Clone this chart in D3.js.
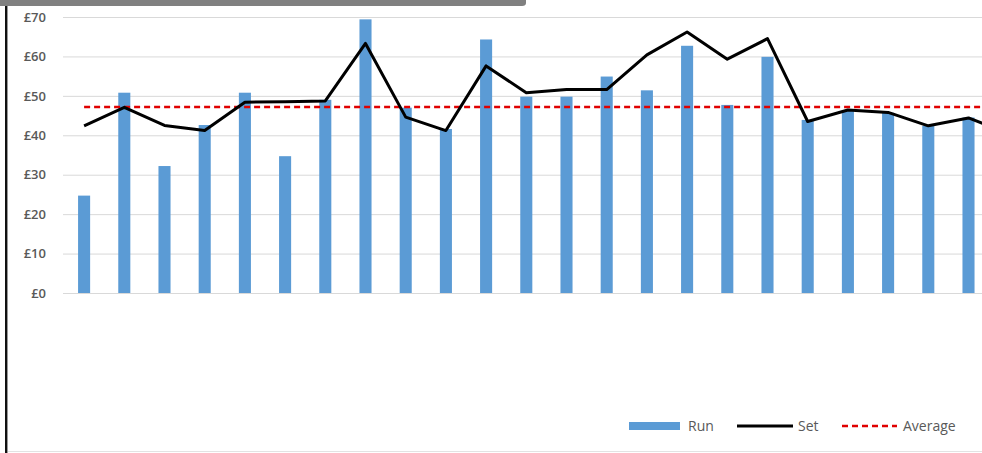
<!DOCTYPE html>
<html>
<head>
<meta charset="utf-8">
<script src="https://cdn.jsdelivr.net/npm/d3@7"></script>
<style>
  body { margin: 0; background: #fff; overflow: hidden; }
  svg { display: block; }
</style>
</head>
<body>
<svg></svg>
<script>
// data (the 24th week runs past the right edge)
var weeks = d3.range(1, 25).map(function(i) { return "W" + i; });
var runValues = [24.7, 50.8, 32.2, 42.6, 50.8, 34.7, 49.0, 69.4, 47.0, 41.6, 64.3, 49.8,
	49.8, 54.9, 51.4, 62.7, 47.7, 59.9, 43.9, 46.4, 45.7, 42.4, 44.5, 42.0];
var setValues = [42.4, 47.1, 42.5, 41.2, 48.4, 48.5, 48.7, 63.3, 44.6, 41.2, 57.6, 50.8,
	51.6, 51.6, 60.4, 66.2, 59.3, 64.5, 43.5, 46.4, 45.8, 42.4, 44.4, 40.5];
var averageValue = 47.2;
var yTicks = [0, 10, 20, 30, 40, 50, 60, 70];
var legendItems = ["Run", "Set", "Average"];

var width = 982,
	height = 453;

var svg = d3.select("svg")
	.attr("width", width)
	.attr("height", height);

// frame bits around the chart
svg.append("rect")
	.attr("x", 5).attr("y", 5)
	.attr("width", 2).attr("height", height - 5)
	.attr("fill", "#111");
svg.append("rect")
	.attr("x", 7).attr("y", 5)
	.attr("width", 1).attr("height", height - 5)
	.attr("fill", "#999");
svg.append("line")
	.attr("x1", 8).attr("x2", width)
	.attr("y1", 451.5).attr("y2", 451.5)
	.attr("stroke", "#e3e3e3");
svg.append("path")
	.attr("d", "M0,0 H526 V3 Q526,6 522,6 H0 Z")
	.attr("fill", "#808080");

// scales
var x = d3.scaleBand()
	.domain(weeks)
	.range([64, 64 + 40.2 * weeks.length])
	.paddingInner(0.7)
	.paddingOuter(0.35);

var y = d3.scaleLinear()
	.domain([0, 70])
	.range([293, 17]);

var cx = function(d) { return x(d) + x.bandwidth() / 2; };

// gridlines + y labels
var yAxis = svg.append("g")
	.attr("transform", "translate(63,0)")
	.call(d3.axisLeft(y).tickValues(yTicks)
		.tickSize(-(width - 63))
		.tickPadding(17)
		.tickFormat(function(d) { return "£" + d; }));
yAxis.select(".domain").remove();
yAxis.selectAll(".tick line").attr("stroke", "#d9d9d9");
yAxis.selectAll(".tick text")
	.attr("fill", "#595959")
	.style("font-family", "'Open Sans', sans-serif")
	.style("font-size", "13px")
	.style("font-weight", "600");

// bars
svg.append("g")
	.selectAll("rect")
	.data(weeks)
	.enter()
	.append("rect")
	.attr("x", function(d) { return x(d); })
	.attr("y", function(d, i) { return y(runValues[i]); })
	.attr("width", x.bandwidth())
	.attr("height", function(d, i) { return y(0) - y(runValues[i]); })
	.attr("fill", "#5b9bd5");

// average line
svg.append("line")
	.attr("x1", cx(weeks[0]))
	.attr("x2", cx(weeks[weeks.length - 1]))
	.attr("y1", y(averageValue))
	.attr("y2", y(averageValue))
	.attr("stroke", "#e00000")
	.attr("stroke-width", 2.5)
	.attr("stroke-dasharray", "6,4");

// set line
var line = d3.line()
	.x(function(d) { return cx(d); })
	.y(function(d, i) { return y(setValues[i]); });

svg.append("path")
	.datum(weeks)
	.attr("d", line)
	.attr("fill", "none")
	.attr("stroke", "#000")
	.attr("stroke-width", 3)
	.attr("stroke-linejoin", "round");

// legend
var legend = svg.append("g")
	.style("font-family", "'Open Sans', sans-serif")
	.style("font-size", "14px")
	.attr("fill", "#595959");

legend.append("rect")
	.attr("x", 629).attr("y", 422)
	.attr("width", 51).attr("height", 8)
	.attr("fill", "#5b9bd5");
legend.append("text").attr("x", 688).attr("y", 431).text(legendItems[0]);

legend.append("line")
	.attr("x1", 737).attr("x2", 793)
	.attr("y1", 426).attr("y2", 426)
	.attr("stroke", "#000").attr("stroke-width", 3);
legend.append("text").attr("x", 798).attr("y", 431).text(legendItems[1]);

legend.append("line")
	.attr("x1", 842).attr("x2", 897)
	.attr("y1", 426).attr("y2", 426)
	.attr("stroke", "#e00000").attr("stroke-width", 2.5)
	.attr("stroke-dasharray", "6,4");
legend.append("text").attr("x", 903).attr("y", 431).text(legendItems[2]);
</script>
</body>
</html>
